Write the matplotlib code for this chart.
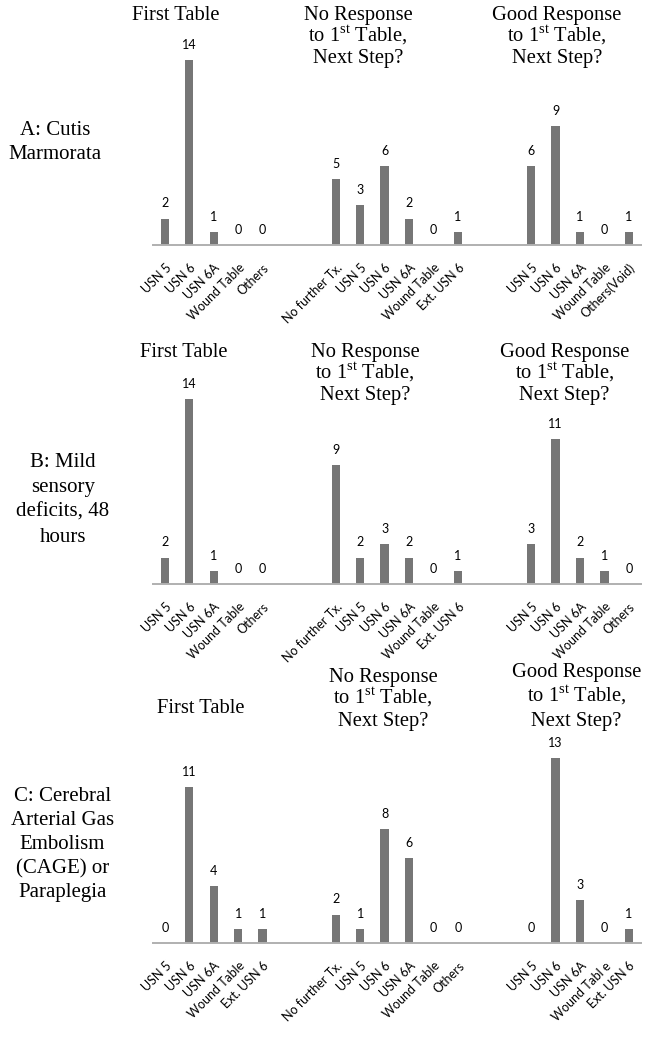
import matplotlib.pyplot as plt
from matplotlib.transforms import ScaledTranslation

plt.rcParams['mathtext.fontset'] = 'custom'
plt.rcParams['mathtext.rm'] = 'Liberation Serif'

W, H = 649, 1060
SERIF = 'Liberation Serif'
SANS = ['Lato', 'DejaVu Sans']
BAR = '#767676'
AXIS = '#B0B0B0'

# data, one list per panel (row A, B, C; three panels each)
a1_labels = ['USN 5', 'USN 6', 'USN 6A', 'Wound Table', 'Others']
a1_values = [2, 14, 1, 0, 0]
a2_labels = ['No further Tx.', 'USN 5', 'USN 6', 'USN 6A', 'Wound Table', 'Ext. USN 6']
a2_values = [5, 3, 6, 2, 0, 1]
a3_labels = ['USN 5', 'USN 6', 'USN 6A', 'Wound Table', 'Others(Void)']
a3_values = [6, 9, 1, 0, 1]

b1_labels = ['USN 5', 'USN 6', 'USN 6A', 'Wound Table', 'Others']
b1_values = [2, 14, 1, 0, 0]
b2_labels = ['No further Tx.', 'USN 5', 'USN 6', 'USN 6A', 'Wound Table', 'Ext. USN 6']
b2_values = [9, 2, 3, 2, 0, 1]
b3_labels = ['USN 5', 'USN 6', 'USN 6A', 'Wound Table', 'Others']
b3_values = [3, 11, 2, 1, 0]

c1_labels = ['USN 5', 'USN 6', 'USN 6A', 'Wound Table', 'Ext. USN 6']
c1_values = [0, 11, 4, 1, 1]
c2_labels = ['No further Tx.', 'USN 5', 'USN 6', 'USN 6A', 'Wound Table', 'Others']
c2_values = [2, 1, 8, 6, 0, 0]
c3_labels = ['USN 5', 'USN 6', 'USN 6A', 'Wound Tabl e', 'Ext. USN 6']
c3_values = [0, 13, 3, 0, 1]

row_titles = ['A: Cutis\nMarmorata',
              'B: Mild\nsensory\ndeficits, 48\nhours',
              'C: Cerebral\nArterial Gas\nEmbolism\n(CAGE) or\nParaplegia']
panel_starts = [0, 7, 15]

rows = [
    [(a1_labels, a1_values), (a2_labels, a2_values), (a3_labels, a3_values)],
    [(b1_labels, b1_values), (b2_labels, b2_values), (b3_labels, b3_values)],
    [(c1_labels, c1_values), (c2_labels, c2_values), (c3_labels, c3_values)],
]

# layout per row: baseline y (px), px per unit, y max
row_base = [245, 584, 943]
row_scale = [13.2, 13.2, 14.2]
row_ymax = [14, 14, 13]
ax_left, ax_right = 152.7, 641

fig = plt.figure(figsize=(W / 100, H / 100), dpi=100)
shift = ScaledTranslation(3 / 100, 0, fig.dpi_scale_trans)


def fx(x):
    return x / W


def fy(y):
    return 1 - y / H


for r, panels in enumerate(rows):
    hgt = row_ymax[r] * row_scale[r]
    ax = fig.add_axes([fx(ax_left), fy(row_base[r]), (ax_right - ax_left) / W, hgt / H])
    xs, labels = [], []
    for start, (labs, vals) in zip(panel_starts, panels):
        pos = [start + i for i in range(len(vals))]
        ax.bar(pos, vals, width=0.34, color=BAR)
        for p, v in zip(pos, vals):
            ax.annotate(str(v), (p, v), xytext=(0, 8), textcoords='offset points',
                        ha='center', va='baseline', fontsize=9, family=SANS)
        xs += pos
        labels += labs
    ax.set_xlim(-0.5, 19.5)
    ax.set_ylim(0, row_ymax[r])
    ax.set_xticks(xs, labels, rotation=45, ha='right', va='top',
                  rotation_mode='anchor', fontsize=9, family=SANS)
    for lab in ax.get_xticklabels():
        lab.set_transform(lab.get_transform() + shift)
    ax.tick_params(axis='x', length=0, pad=12)
    ax.set_yticks([])
    for s in ['left', 'right', 'top']:
        ax.spines[s].set_visible(False)
    ax.spines['bottom'].set_color(AXIS)
    ax.spines['bottom'].set_linewidth(1.4)
    ax.patch.set_alpha(0)

# panel titles (x centre, first baseline, line step)
title_pos = [
    [(176, 20, 0), (358, 20, 21.7), (557, 20, 21.7)],
    [(183.5, 356.7, 0), (365, 356.7, 21.7), (564.5, 356.7, 21.7)],
    [(201, 713.3, 0), (383, 681.7, 22), (576.5, 676.7, 24.5)],
]
first_title = 'First Table'
next_titles = [['No Response', r'to 1$^{\rm st}$ Table,', 'Next Step?'],
               ['Good Response', r'to 1$^{\rm st}$ Table,', 'Next Step?']]

for r in range(3):
    x, y, step = title_pos[r][0]
    fig.text(fx(x), fy(y), first_title, ha='center', va='baseline',
             fontsize=14.8, family=SERIF)
    for k in range(2):
        x, y, step = title_pos[r][k + 1]
        for j, line in enumerate(next_titles[k]):
            fig.text(fx(x), fy(y + j * step), line, ha='center', va='baseline',
                     fontsize=14.8, family=SERIF)

# row labels: x centre, first baseline, line step
row_label_pos = [(55, 135, 24), (63, 467, 25), (62.5, 801, 24)]
for r, txt in enumerate(row_titles):
    x, y, step = row_label_pos[r]
    for j, line in enumerate(txt.split('\n')):
        fig.text(fx(x), fy(y + j * step), line, ha='center', va='baseline',
                 fontsize=15, family=SERIF)

plt.savefig('out.png', dpi=100)
